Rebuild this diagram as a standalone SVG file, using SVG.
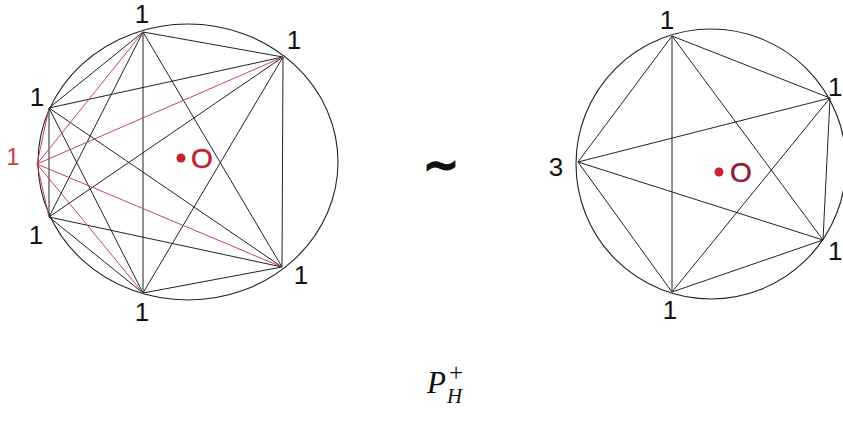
<svg xmlns="http://www.w3.org/2000/svg" width="843" height="428" viewBox="0 0 843 428">
<style>
.rim{fill:none;stroke:#222;stroke-width:1.1}
.e{stroke:#222;stroke-width:1;fill:none}
.r{stroke:#c04858;stroke-width:1;fill:none}
.lab{font-family:"Liberation Sans",Arial,sans-serif;font-size:26px;fill:#111;text-anchor:middle}
.dot{fill:#c8202c}
.oo{font-family:"Liberation Sans",Arial,sans-serif;font-size:28px;fill:#c02030;stroke:#c02030;stroke-width:0.5;text-anchor:middle}
.math{font-family:"Liberation Serif","Times New Roman",serif;font-style:italic;fill:#111}
</style>
<rect width="843" height="428" fill="#fff"/>
<g id="left-circle"><ellipse class="rim" cx="188" cy="162" rx="150" ry="138"/></g>
<g id="right-circle"><circle class="rim" cx="711" cy="164" r="135"/></g>
<g id="connectors">
<line class="e" x1="143" y1="32" x2="283" y2="57"/>
<line class="e" x1="143" y1="32" x2="49" y2="108"/>
<line class="e" x1="143" y1="32" x2="49" y2="217"/>
<line class="e" x1="143" y1="32" x2="143" y2="293"/>
<line class="e" x1="143" y1="32" x2="282" y2="267"/>
<line class="e" x1="283" y1="57" x2="49" y2="108"/>
<line class="e" x1="283" y1="57" x2="49" y2="217"/>
<line class="e" x1="283" y1="57" x2="143" y2="293"/>
<line class="e" x1="283" y1="57" x2="282" y2="267"/>
<line class="e" x1="49" y1="108" x2="49" y2="217"/>
<line class="e" x1="49" y1="108" x2="143" y2="293"/>
<line class="e" x1="49" y1="108" x2="282" y2="267"/>
<line class="e" x1="49" y1="217" x2="143" y2="293"/>
<line class="e" x1="49" y1="217" x2="282" y2="267"/>
<line class="e" x1="143" y1="293" x2="282" y2="267"/>
<line class="r" x1="37" y1="164" x2="143" y2="32"/>
<line class="r" x1="37" y1="164" x2="283" y2="57"/>
<line class="r" x1="37" y1="164" x2="49" y2="108"/>
<line class="r" x1="37" y1="164" x2="49" y2="217"/>
<line class="r" x1="37" y1="164" x2="143" y2="293"/>
<line class="r" x1="37" y1="164" x2="282" y2="267"/>
<line class="e" x1="672" y1="36" x2="830" y2="98"/>
<line class="e" x1="672" y1="36" x2="578" y2="162"/>
<line class="e" x1="672" y1="36" x2="672" y2="292"/>
<line class="e" x1="672" y1="36" x2="823" y2="240"/>
<line class="e" x1="830" y1="98" x2="578" y2="162"/>
<line class="e" x1="830" y1="98" x2="672" y2="292"/>
<line class="e" x1="830" y1="98" x2="823" y2="240"/>
<line class="e" x1="578" y1="162" x2="823" y2="240"/>
<line class="e" x1="578" y1="162" x2="672" y2="292"/>
<line class="e" x1="672" y1="292" x2="823" y2="240"/>
</g>
<g id="left-top"><text class="lab" x="142" y="23">1</text></g>
<g id="left-ur"><text class="lab" x="294" y="49">1</text></g>
<g id="left-ul"><text class="lab" x="37" y="106">1</text></g>
<g id="left-red"><text class="lab" x="13" y="165" style="fill:#d03a3a;font-size:23px">1</text></g>
<g id="left-ll"><text class="lab" x="36" y="244">1</text></g>
<g id="left-lr"><text class="lab" x="301" y="284">1</text></g>
<g id="left-bottom"><text class="lab" x="142" y="321">1</text></g>
<g id="left-center"><circle class="dot" cx="181" cy="158" r="4.5"/><text class="oo" x="202" y="168">O</text></g>
<g id="tilde"><text x="441" y="180" style="font-family:'DejaVu Sans',sans-serif;font-weight:bold;font-size:44px;text-anchor:middle;fill:#111;stroke:#111;stroke-width:1.2">~</text></g>
<g id="right-top"><text class="lab" x="667" y="29">1</text></g>
<g id="right-ur"><text class="lab" x="828" y="96" style="text-anchor:start">1</text></g>
<g id="right-3"><text class="lab" x="556" y="176">3</text></g>
<g id="right-lr"><text class="lab" x="828" y="260" style="text-anchor:start">1</text></g>
<g id="right-bottom"><text class="lab" x="670" y="319">1</text></g>
<g id="right-center"><circle class="dot" cx="719" cy="172" r="4.5"/><text class="oo" x="741" y="182" style="fill:#8a2030;stroke:#8a2030">O</text></g>
<g id="caption"><text class="math" x="427" y="393" font-size="31">P</text><text class="math" x="447" y="403" font-size="21">H</text><text x="449" y="381" font-size="25" style="font-family:'Liberation Serif',serif;fill:#111">+</text></g>
</svg>
